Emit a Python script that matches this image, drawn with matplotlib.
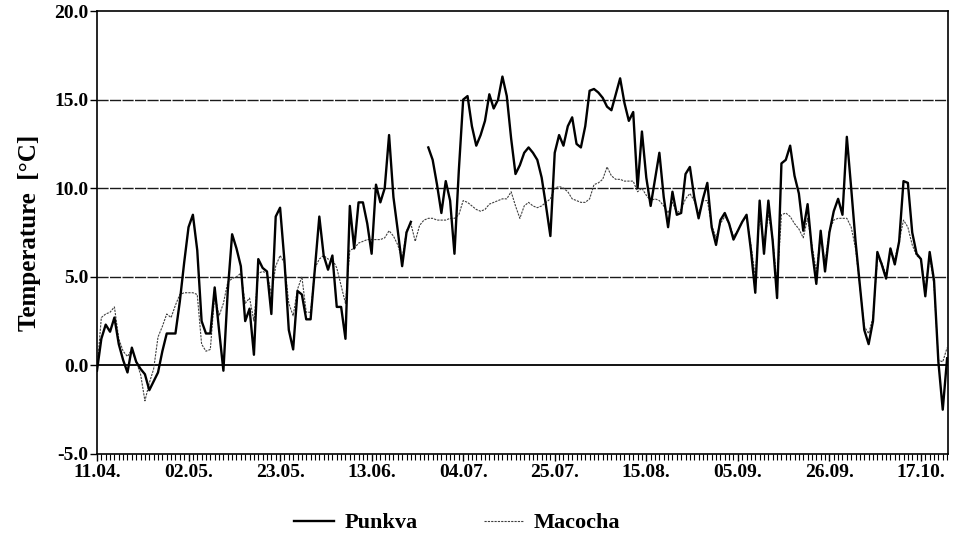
import numpy as np
import matplotlib
matplotlib.use("Agg")
import matplotlib.pyplot as plt
from matplotlib.ticker import MultipleLocator, FixedLocator, FormatStrFormatter

# daily mean temperatures from 11.04. onwards (day index 0..195)
punkva = [
    -0.3, 1.5, 2.3, 1.9, 2.7, 1.2, 0.3, -0.4, 1.0, 0.2,
    -0.2, -0.5, -1.4, -0.9, -0.4, 0.8, 1.8, 1.8, 1.8, 3.6,
    5.8, 7.8, 8.5, 6.5, 2.5, 1.8, 1.8, 4.4, 2.0, -0.3,
    4.2, 7.4, 6.6, 5.6, 2.5, 3.2, 0.6, 6.0, 5.5, 5.3,
    2.9, 8.4, 8.9, 5.9, 2.0, 0.9, 4.2, 4.0, 2.6, 2.6,
    5.5, 8.4, 6.2, 5.4, 6.2, 3.3, 3.3, 1.5, 9.0, 6.6,
    9.2, 9.2, 8.0, 6.3, 10.2, 9.2, 10.0, 13.0, 9.5, 7.6,
    5.6, 7.5, 8.1, np.nan, np.nan, np.nan, 12.3, 11.6, 10.2, 8.6,
    10.4, 9.3, 6.3, 11.0, 15.0, 15.2, 13.5, 12.4, 13.0, 13.8,
    15.3, 14.5, 15.0, 16.3, 15.2, 12.8, 10.8, 11.3, 12.0, 12.3,
    12.0, 11.6, 10.6, 9.0, 7.3, 12.0, 13.0, 12.4, 13.5, 14.0,
    12.5, 12.3, 13.5, 15.5, 15.6, 15.4, 15.1, 14.6, 14.4, 15.3,
    16.2, 14.8, 13.8, 14.3, 10.0, 13.2, 10.6, 9.0, 10.5, 12.0,
    9.5, 7.8, 9.8, 8.5, 8.6, 10.8, 11.2, 9.5, 8.3, 9.4,
    10.3, 7.8, 6.8, 8.2, 8.6, 8.0, 7.1, 7.6, 8.1, 8.5,
    6.5, 4.1, 9.3, 6.3, 9.3, 7.0, 3.8, 11.4, 11.6, 12.4,
    10.7, 9.7, 7.6, 9.1, 6.5, 4.6, 7.6, 5.3, 7.5, 8.7,
    9.4, 8.5, 12.9, 10.0, 7.0, 4.5, 2.0, 1.2, 2.5, 6.4,
    5.7, 4.9, 6.6, 5.7, 7.0, 10.4, 10.3, 7.5, 6.3, 6.0,
    3.9, 6.4, 4.8, 0.2, -2.5, 0.4,
]
macocha = [
    -0.3, 2.7, 2.9, 3.0, 3.3, 1.5, 0.8, 0.5, 0.9, 0.2,
    -0.5, -2.0, -1.0, -0.2, 1.6, 2.2, 2.9, 2.7, 3.4, 4.0,
    4.1, 4.1, 4.1, 4.0, 1.2, 0.8, 0.9, 4.0, 2.8, 3.5,
    4.7, 4.9, 5.0, 5.2, 3.5, 3.8, 2.5, 5.2, 5.3, 5.2,
    4.0, 5.6, 6.2, 5.8, 3.5, 2.8, 4.3, 5.0, 3.0, 3.0,
    5.5, 6.0, 6.2, 6.0, 6.0, 5.5, 4.5, 3.5, 6.5, 6.6,
    6.9, 7.0, 7.1, 7.1, 7.1, 7.1, 7.2, 7.6, 7.3, 6.8,
    6.0, 7.6, 8.0, 7.0, 7.9, 8.2, 8.3, 8.3, 8.2, 8.2,
    8.2, 8.3, 8.3, 8.5, 9.3, 9.2, 9.0, 8.8, 8.7, 8.8,
    9.1, 9.2, 9.3, 9.4, 9.4, 9.8, 9.0, 8.3, 9.0, 9.2,
    9.0, 8.9, 9.0, 9.2, 9.4, 10.0, 10.1, 10.0, 9.8, 9.4,
    9.3, 9.2, 9.2, 9.4, 10.2, 10.3, 10.5, 11.2, 10.7, 10.5,
    10.5, 10.4, 10.4, 10.4, 9.8, 10.0, 9.6, 9.3, 9.4, 9.3,
    9.0, 8.6, 9.2, 8.6, 8.8, 9.4, 9.7, 9.3, 8.6, 9.3,
    9.3, 7.9, 7.2, 8.0, 8.4, 8.0, 7.3, 7.6, 8.1, 8.4,
    6.8, 5.0, 8.5, 6.8, 8.5, 7.2, 4.5, 8.5, 8.6, 8.4,
    8.0, 7.7, 7.2, 8.3, 6.8, 5.3, 7.4, 5.8, 7.6, 8.2,
    8.3, 8.3, 8.3, 7.8, 6.6, 4.4, 2.2, 1.8, 2.7, 6.0,
    5.8, 5.1, 6.4, 6.0, 7.0, 8.2, 7.8, 6.8, 6.2, 6.0,
    4.3, 6.2, 4.5, 0.3, 0.2, 1.0,
]
date_labels = ["11.04.", "02.05.", "23.05.", "13.06.", "04.07.",
               "25.07.", "15.08.", "05.09.", "26.09.", "17.10."]

days = np.arange(len(punkva))
serif = ["Liberation Serif", "DejaVu Serif"]
plt.rcParams["font.family"] = serif
plt.rcParams["font.weight"] = "bold"

fig = plt.figure(figsize=(9.63, 5.4), dpi=100)
ax = fig.add_axes([0.1007, 0.1593, 0.8837, 0.8203])

# reference lines at 5/10/15 and the zero line
for yv in (5, 10, 15):
    ax.axhline(yv, color="0.1", lw=1.0, ls=(0, (8, 1)), zorder=1)
ax.axhline(0, color="black", lw=1.3, zorder=1)

ax.plot(days, macocha, color="0.25", lw=0.8, ls=(0, (2, 1)),
        label="Macocha", zorder=2)
ax.plot(days, punkva, color="black", lw=1.7, label="Punkva", zorder=3)

ax.set_xlim(0, 195.2)
ax.set_ylim(-5, 20)
ax.yaxis.set_major_locator(MultipleLocator(5))
ax.yaxis.set_major_formatter(FormatStrFormatter("%.1f"))
ax.xaxis.set_major_locator(FixedLocator(np.arange(0, 190, 21)))
ax.xaxis.set_minor_locator(MultipleLocator(1))
ax.set_xticklabels(date_labels)
ax.tick_params(axis="x", which="major", length=5, width=1, pad=2, labelsize=14)
ax.tick_params(axis="x", which="minor", length=4, width=0.8)
ax.tick_params(axis="y", length=5, width=1, pad=1, labelsize=14)
for s in ax.spines.values():
    s.set_linewidth(1.2)

ax.set_ylabel("Temperature  [°C]", fontsize=18, fontweight="bold", labelpad=10)

h, l = ax.get_legend_handles_labels()
fig.legend([h[1], h[0]], [l[1], l[0]], loc="lower center",
           bbox_to_anchor=(0.475, -0.025), ncol=2, frameon=False,
           prop={"family": serif, "weight": "bold", "size": 16},
           handlelength=1.8, handletextpad=0.45, columnspacing=3.0)

fig.savefig("out.png", dpi=100)
